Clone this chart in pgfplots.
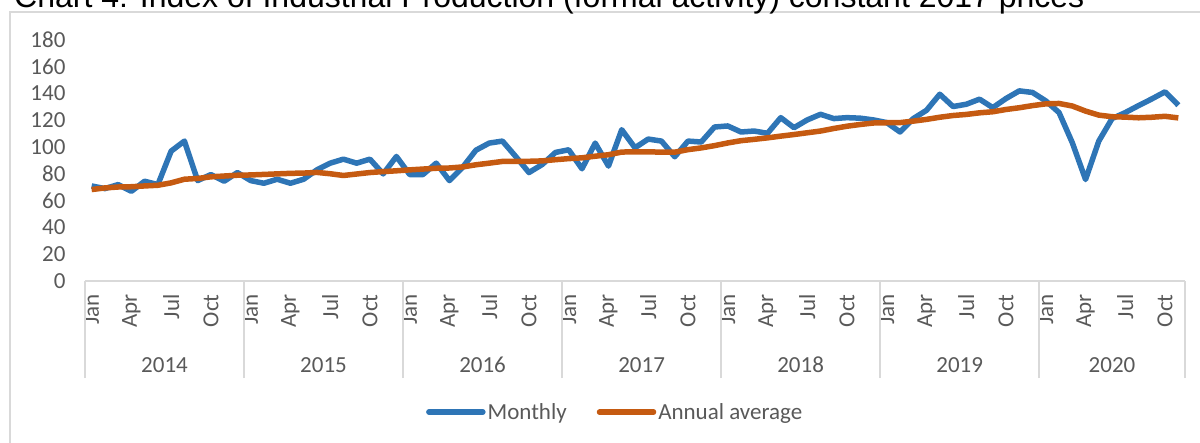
\documentclass[border=0pt]{standalone}
\usepackage{fontspec}
\setmainfont{Carlito}
\newfontfamily\titlefont{Liberation Sans}
\usepackage{pgfplots}
\usepackage{pgfplotstable}
\pgfplotsset{compat=1.18}
\definecolor{cblue}{HTML}{2E75B6}
\definecolor{corange}{HTML}{C55A11}
\definecolor{cgrid}{HTML}{D9D9D9}
\definecolor{ctext}{HTML}{595959}

\pgfplotstableread{
i monthly avg
0 71 68.3
1 69 69.5
2 72 70.2
3 67 70.4
4 74.5 71
5 72 71.5
6 97 73.3
7 104.5 76
8 75 76.6
9 79.5 77.8
10 74.5 78.4
11 81 79
12 75 79.2
13 73 79.6
14 76 80
15 73 80.4
16 76 80.6
17 83 81.1
18 88 80.1
19 91 78.8
20 88 79.9
21 91 81
22 80 81.7
23 93 82.3
24 79.5 83
25 79.5 83.6
26 88 84.2
27 75 84.4
28 85 85.2
29 97.7 86.8
30 103 88
31 104.5 89.3
32 93 89.4
33 81 89.4
34 87 89.7
35 96 90.6
36 98 91.4
37 83.8 92
38 103 93.2
39 85.8 94.3
40 113 96.3
41 99.5 96.5
42 106 96.5
43 104.5 96.2
44 92.8 96.2
45 104.5 98.1
46 103.8 99.4
47 115 101.1
48 115.8 103.1
49 111.3 104.8
50 112 105.8
51 110.3 106.9
52 122 108.2
53 114.5 109.4
54 120.3 110.7
55 124.5 112
56 121.3 113.9
57 122 115.6
58 121.6 116.9
59 120.3 118
60 118.3 118.2
61 111.3 118.3
62 121.3 119.4
63 127.5 120.7
64 139.5 122.3
65 130.3 123.6
66 132 124.4
67 135.8 125.6
68 129.5 126.4
69 136.3 128.1
70 142 129.4
71 140.8 131
72 134.5 132.3
73 125.8 132.6
74 103.3 130.7
75 75.8 126.9
76 104.5 123.9
77 121.3 122.7
78 125.8 122.4
79 131 121.9
80 136 122.3
81 141.3 123
82 131.3 121.8
}\datatable

\begin{document}
\begin{tikzpicture}[x=1pt,y=1pt]
\useasboundingbox (0,0) rectangle (1200,443);
\draw[cgrid, line width=1.5pt] (10,-5) -- (10,431) -- (1210,431);
\node[anchor=base west, inner sep=0, font=\titlefont\fontsize{32}{38}\selectfont] at (14,435) {Chart 4: Index of Industrial Production (formal activity) constant 2017 prices};
\begin{axis}[
  at={(85pt,162pt)}, anchor=south west,
  scale only axis, width=1100pt, height=241pt,
  xmin=-0.5, xmax=82.5, ymin=0, ymax=180,
  clip=false,
  axis line style={draw=none},
  xtick pos=bottom, ytick pos=left,
  major tick length=0pt,
  ytick={0,20,...,180},
  xtick={0,3,...,81},
  xticklabels={Jan,Apr,Jul,Oct,Jan,Apr,Jul,Oct,Jan,Apr,Jul,Oct,Jan,Apr,Jul,Oct,Jan,Apr,Jul,Oct,Jan,Apr,Jul,Oct,Jan,Apr,Jul,Oct},
  /pgf/number format/assume math mode=true,
  y tick label style={font=\fontsize{23}{26}\selectfont, text=ctext, anchor=east, xshift=-16pt},
  x tick label style={font=\fontsize{23}{26}\selectfont, text=ctext, rotate=90, anchor=east},
  xticklabel shift=10pt,
  extra x ticks={-0.5,11.5,23.5,35.5,47.5,59.5,71.5,82.5},
  extra x tick labels={},
  extra x tick style={major tick length=97pt, tick align=outside, tick style={cgrid, line width=1.5pt}},
  legend columns=2,
  legend style={at={(0.482,-0.544)}, anchor=center, draw=none, fill=none,
    font=\fontsize{23}{26}\selectfont, text=ctext,
    /tikz/every even column/.append style={column sep=28pt},
    nodes={inner xsep=2pt}},
  legend image code/.code={\draw[#1, line width=5.5pt, line cap=round] (0pt,0pt) -- (54pt,0pt);},
]
\draw[cgrid, line width=1.5pt] (rel axis cs:0,0) -- (rel axis cs:1,0);
\addplot[cblue, line width=5.5pt, line join=round] table[x=i, y=monthly] {\datatable};
\addlegendentry{Monthly}
\addplot[corange, line width=5.5pt, line join=round] table[x=i, y=avg] {\datatable};
\addlegendentry{Annual average}
\foreach \yr/\c in {2014/5.5,2015/17.5,2016/29.5,2017/41.5,2018/53.5,2019/65.5}{
  \edef\tmp{\noexpand\node[font=\noexpand\fontsize{23}{26}\noexpand\selectfont, text=ctext] at (axis cs:\c,0) [yshift=-84pt] {\yr};}
  \tmp
}
\node[font=\fontsize{23}{26}\selectfont, text=ctext] at (axis cs:77,0) [yshift=-84pt] {2020};
\end{axis}
\end{tikzpicture}
\end{document}
